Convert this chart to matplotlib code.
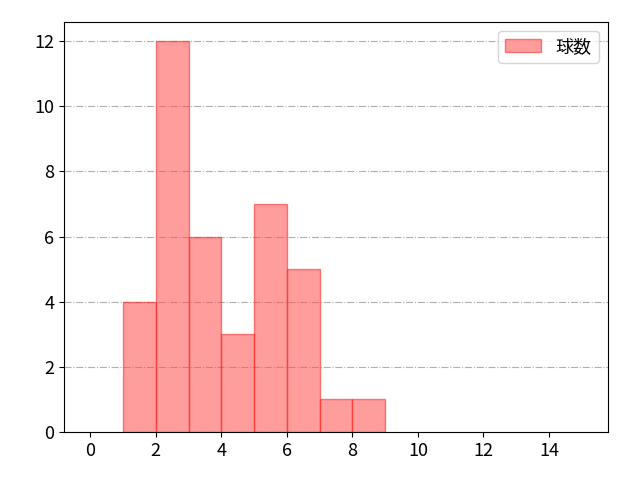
import matplotlib
matplotlib.use("Agg")
import matplotlib.pyplot as plt

plt.rcParams['font.family'] = ['Noto Sans CJK JP', 'DejaVu Sans']

edges = [1, 2, 3, 4, 5, 6, 7, 8, 9]
counts = [4, 12, 6, 3, 7, 5, 1, 1]

fig, ax = plt.subplots(figsize=(6.4, 4.8), dpi=100)
ax.hist(edges[:-1], bins=edges, weights=counts, color='#ff4d4d', alpha=0.55,
        edgecolor='#ff2020', linewidth=1, label='球数')
ax.set_xlim(-0.8, 15.8)
ax.set_ylim(0, 12.6)
ax.set_xticks(range(0, 15, 2))
ax.set_yticks(range(0, 13, 2))
ax.grid(axis='y', linestyle='-.', color='#b0b0b0', linewidth=0.8)
ax.set_axisbelow(True)
ax.tick_params(labelsize=13)
ax.legend(fontsize=13, loc='upper right')
fig.subplots_adjust(left=0.1, right=0.95, bottom=0.1, top=0.955)
fig.savefig('out.png')
